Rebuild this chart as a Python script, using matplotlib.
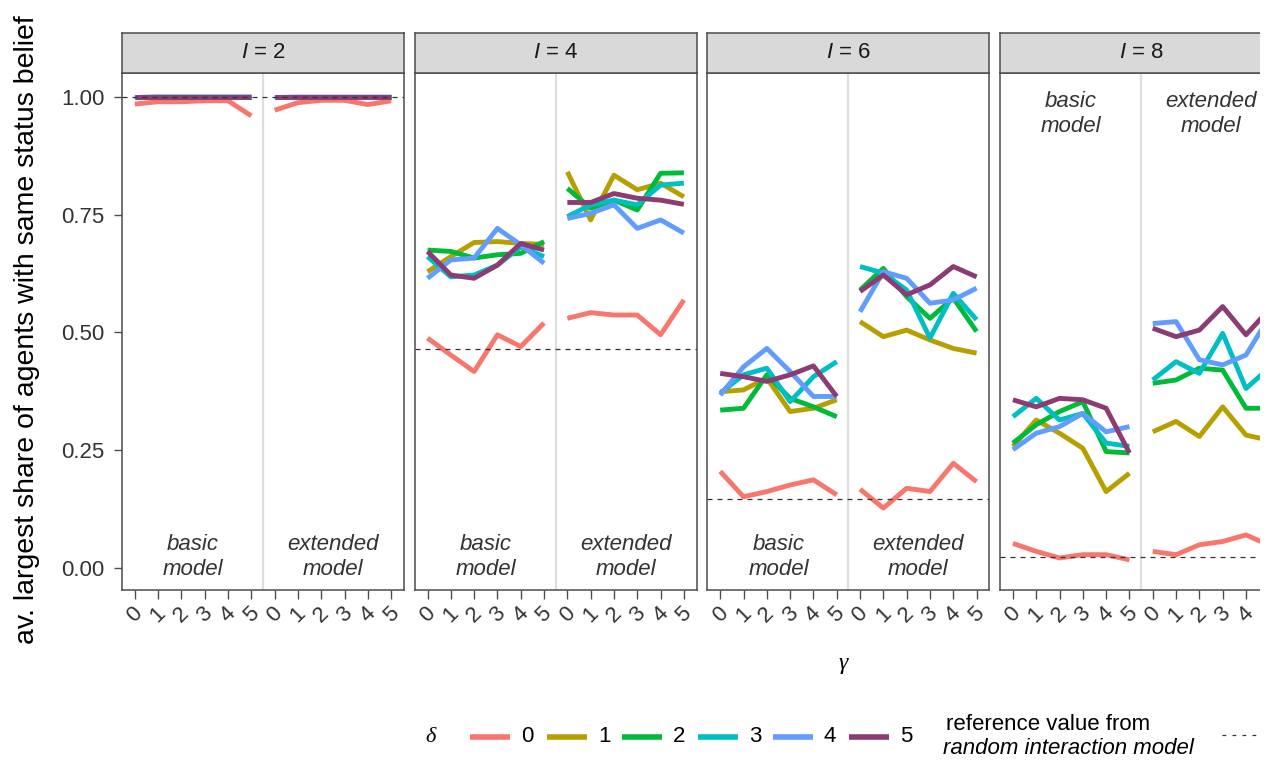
import matplotlib
matplotlib.use("Agg")
import matplotlib.pyplot as plt
from matplotlib.lines import Line2D
from matplotlib.patches import Rectangle

plt.rcParams['font.family'] = ['Liberation Sans', 'DejaVu Sans']
plt.rcParams['mathtext.fontset'] = 'custom'
plt.rcParams['mathtext.rm'] = 'Liberation Sans'
plt.rcParams['mathtext.it'] = 'Liberation Sans:italic'

# ---- data -------------------------------------------------------------
interaction_sizes = [2, 4, 6, 8]
deltas = [0, 1, 2, 3, 4, 5]
gammas = [0, 1, 2, 3, 4, 5]
delta_colors = ['#F8766D', '#B79F00', '#00BA38', '#00BFC4', '#619CFF', '#8C3B73']
ref_values = [1.0, 0.465, 0.146, 0.024]

# rows: delta 0..5; columns: basic model gamma 0..5, then extended model gamma 0..5
share_I2 = [
    [0.985, 0.990, 0.990, 0.992, 0.992, 0.960, 0.972, 0.988, 0.993, 0.993, 0.984, 0.992],
    [1.000, 1.000, 1.000, 1.000, 1.000, 1.000, 1.000, 1.000, 1.000, 1.000, 1.000, 1.000],
    [1.000, 1.000, 1.000, 1.000, 1.000, 1.000, 1.000, 1.000, 1.000, 1.000, 1.000, 1.000],
    [0.999, 1.000, 1.000, 1.000, 1.000, 1.000, 1.000, 1.000, 1.000, 1.000, 1.000, 1.000],
    [0.999, 1.000, 1.000, 1.000, 1.000, 1.000, 0.999, 1.000, 1.000, 1.000, 1.000, 1.000],
    [1.000, 1.000, 1.000, 1.000, 1.000, 1.000, 1.000, 1.000, 1.000, 1.000, 1.000, 1.000],
]
share_I4 = [
    [0.488, 0.452, 0.417, 0.495, 0.470, 0.520, 0.530, 0.542, 0.537, 0.537, 0.495, 0.569],
    [0.629, 0.661, 0.691, 0.693, 0.689, 0.687, 0.841, 0.739, 0.834, 0.803, 0.817, 0.788],
    [0.675, 0.672, 0.658, 0.665, 0.668, 0.693, 0.806, 0.764, 0.781, 0.760, 0.838, 0.839],
    [0.661, 0.618, 0.622, 0.643, 0.682, 0.661, 0.746, 0.771, 0.781, 0.771, 0.813, 0.817],
    [0.615, 0.654, 0.658, 0.721, 0.686, 0.647, 0.742, 0.753, 0.771, 0.721, 0.739, 0.711],
    [0.672, 0.622, 0.615, 0.643, 0.689, 0.675, 0.776, 0.776, 0.795, 0.785, 0.781, 0.772],
]
share_I6 = [
    [0.205, 0.151, 0.162, 0.176, 0.187, 0.155, 0.167, 0.127, 0.169, 0.162, 0.222, 0.183],
    [0.374, 0.378, 0.403, 0.332, 0.339, 0.357, 0.523, 0.491, 0.505, 0.484, 0.466, 0.456],
    [0.335, 0.339, 0.410, 0.360, 0.342, 0.321, 0.590, 0.636, 0.576, 0.530, 0.573, 0.502],
    [0.371, 0.410, 0.424, 0.353, 0.406, 0.438, 0.640, 0.626, 0.590, 0.488, 0.583, 0.527],
    [0.367, 0.427, 0.466, 0.417, 0.364, 0.364, 0.544, 0.629, 0.615, 0.562, 0.569, 0.594],
    [0.413, 0.406, 0.396, 0.410, 0.429, 0.364, 0.587, 0.622, 0.580, 0.601, 0.640, 0.618],
]
share_I8 = [
    [0.052, 0.035, 0.021, 0.028, 0.028, 0.017, 0.035, 0.028, 0.049, 0.056, 0.070, 0.048],
    [0.258, 0.314, 0.286, 0.254, 0.162, 0.201, 0.289, 0.311, 0.279, 0.342, 0.282, 0.271],
    [0.265, 0.304, 0.332, 0.353, 0.247, 0.244, 0.392, 0.399, 0.424, 0.420, 0.339, 0.339],
    [0.321, 0.360, 0.314, 0.328, 0.265, 0.258, 0.399, 0.438, 0.413, 0.498, 0.381, 0.425],
    [0.251, 0.286, 0.300, 0.328, 0.289, 0.300, 0.519, 0.523, 0.442, 0.431, 0.452, 0.533],
    [0.357, 0.342, 0.360, 0.357, 0.339, 0.244, 0.509, 0.491, 0.505, 0.555, 0.495, 0.549],
]
panel_data = [share_I2, share_I4, share_I6, share_I8]
y_ticks = [0.0, 0.25, 0.5, 0.75, 1.0]
y_tick_labels = ['0.00', '0.25', '0.50', '0.75', '1.00']

# ---- layout -----------------------------------------------------------
W, H = 1274, 760
fig = plt.figure(figsize=(W / 100, H / 100), dpi=100)
fig.patch.set_facecolor('white')

border = '#4D4D4D'
text_dark = '#333333'
panel_top, panel_bottom = 73, 590
strip_h = 40
panel_w = 282
panel_step = 292.7
first_left = 122
page_right = 1260

for i, (size, data) in enumerate(zip(interaction_sizes, panel_data)):
    left = first_left + panel_step * i
    ax = fig.add_axes([left / W, 1 - panel_bottom / H, panel_w / W,
                       (panel_bottom - panel_top) / H])
    strip = fig.add_axes([left / W, 1 - panel_top / H, panel_w / W, strip_h / H])

    xs = list(range(12))
    ax.axvline(5.5, color='#DEDEDE', lw=1.6, zorder=0.5)
    for d, color in zip(deltas, delta_colors):
        row = data[d]
        for part in (slice(0, 6), slice(6, 12)):
            ax.plot(xs[part], row[part], color=color, lw=3.5,
                    solid_capstyle='butt', solid_joinstyle='round',
                    zorder=2 + d * 0.1)
    ax.axhline(ref_values[i], color='#333333', lw=0.9, ls=(0, (4, 4)), zorder=5)

    ax.set_xlim(-0.55, 11.55)
    ax.set_ylim(-0.047, 1.051)
    ax.set_xticks(xs)
    ax.set_xticklabels([str(g) for g in gammas] * 2, rotation=45,
                       ha='center', va='top', fontsize=16, color=text_dark)
    ax.set_yticks(y_ticks)
    if i == 0:
        ax.set_yticklabels(y_tick_labels, fontsize=16, color=text_dark)
    else:
        ax.tick_params(axis='y', left=False, labelleft=False)
    ax.tick_params(axis='x', length=6.5, width=1.0, color=border, pad=3)
    ax.tick_params(axis='y', length=5.5, width=1.0, color=border, pad=7)
    for sp in ax.spines.values():
        sp.set_color(border)
        sp.set_linewidth(1.1)

    # tick labels lying past the page edge are not drawn
    fig.canvas.draw_idle()
    for x, lbl in zip(xs, ax.get_xticklabels()):
        px = left + (x + 0.55) / 12.1 * panel_w
        if px > page_right:
            lbl.set_visible(False)

    label_y = 0.964 if size == 8 else 0.023
    ax.text(2.5, label_y, 'basic\nmodel', ha='center', va='center',
            style='italic', fontsize=16, color=text_dark, linespacing=1.25)
    ax.text(8.5, label_y, 'extended\nmodel', ha='center', va='center',
            style='italic', fontsize=16, color=text_dark, linespacing=1.25)

    strip.set_facecolor('#D9D9D9')
    strip.set_xticks([])
    strip.set_yticks([])
    for sp in strip.spines.values():
        sp.set_color(border)
        sp.set_linewidth(1.1)
    strip.text(0.5, 0.5, f'$I$ = {size}', transform=strip.transAxes,
               ha='center', va='center', fontsize=16, color='#1A1A1A')

# axis titles
fig.text(27 / W, 1 - 330 / H, 'av. largest share of agents with same status belief',
         rotation=90, ha='center', va='center', fontsize=20.5, color='black')
fig.text(843 / W, 1 - 663 / H, 'γ', ha='center', va='center', fontsize=17,
         family='Liberation Serif', style='italic', color='black')

# legend
leg_y = 1 - 737 / H
fig.text(431 / W, leg_y, 'δ', ha='center', va='center', fontsize=16,
         family='Liberation Serif', style='italic', color='black')
swatch_x = [470, 547, 622, 698, 773, 849]
for d, color, sx in zip(deltas, delta_colors, swatch_x):
    fig.add_artist(Line2D([sx / W, (sx + 40) / W], [leg_y, leg_y],
                          transform=fig.transFigure, color=color, lw=4.0,
                          solid_capstyle='butt'))
    fig.text((sx + 57) / W, leg_y, str(d), ha='center', va='center',
             fontsize=16, color='black')
fig.text(946 / W, 1 - 724 / H, 'reference value from', ha='left', va='center',
         fontsize=16, color='black')
fig.text(943 / W, 1 - 749 / H, 'random interaction model', ha='left', va='center',
         fontsize=16, style='italic', color='black')
fig.add_artist(Line2D([1222 / W, 1256 / W], [1 - 735 / H, 1 - 735 / H],
                      transform=fig.transFigure, color='#333333', lw=0.9,
                      ls=(0, (3, 5))))

# page edge on the right
fig.add_artist(Rectangle((page_right / W, 0), 20 / W, 1, transform=fig.transFigure,
                         facecolor='white', edgecolor='none', zorder=100))

fig.savefig('out.png', dpi=100)
